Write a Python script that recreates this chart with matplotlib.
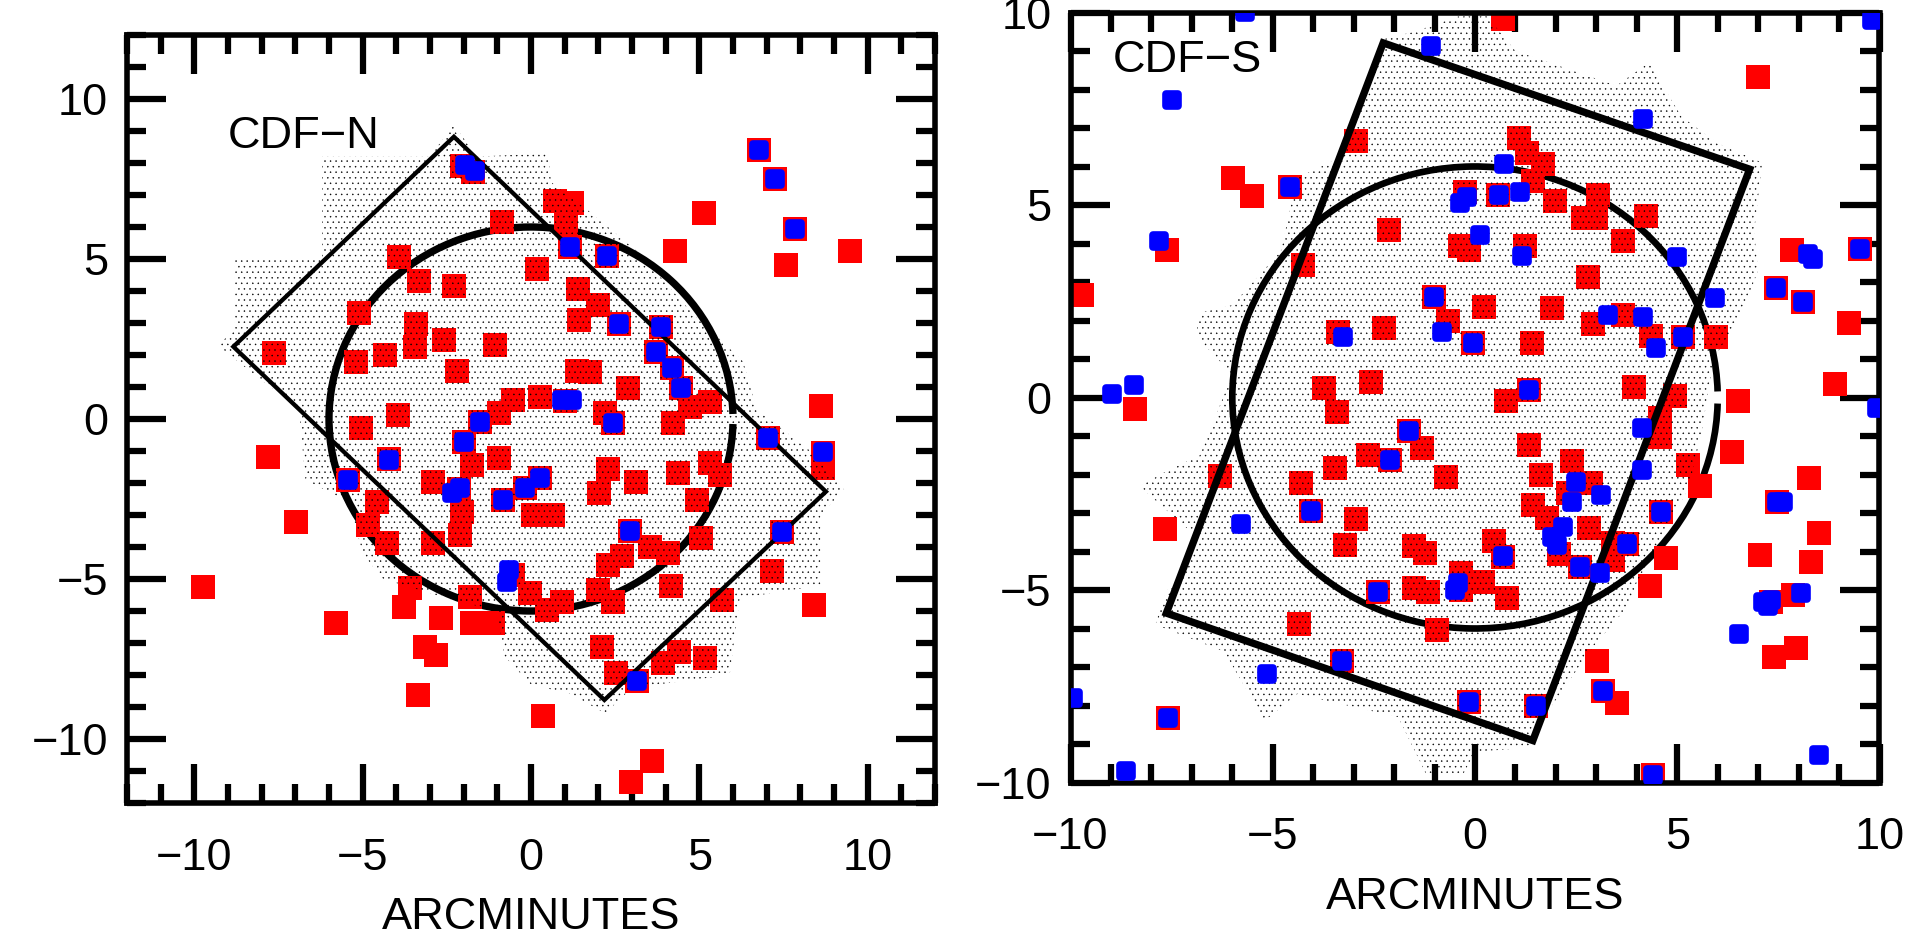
import matplotlib
matplotlib.use("Agg")
import matplotlib.pyplot as plt
from matplotlib.patches import Polygon, Arc
from matplotlib.markers import MarkerStyle
from matplotlib.ticker import MultipleLocator

plt.rcParams['font.family'] = ['Liberation Sans', 'DejaVu Sans']
plt.rcParams['hatch.linewidth'] = 0.3

##############################
# CDF-N (left panel)
##############################
cdfnRedX = [-2.06, -1.73, 0.71, 1.21, 1.04, -0.87, 1.16, 2.25, 0.17, -3.92, -3.33, -2.29, -5.11, -3.43, -3.45,
            -2.58, -1.07, -7.63, -5.20, -4.34, -2.21, 1.39, 1.98, 1.43, 2.61, 3.86, 3.70, 4.18, 4.46, 1.36,
            1.75, 2.87, -0.52, 0.27, 1.00, -0.95, -1.51, -3.96, -5.05, -1.99, -4.22, -7.82, 2.20, 2.45, 4.23,
            4.72, 5.32, 8.60, 7.03, 8.68, 8.66, 5.32, 5.61, 4.36, 3.12, 2.30, 2.02, 0.27, -0.18, -0.82,
            0.07, 0.66, 4.92, 2.94, 3.54, 4.08, 5.05, 2.69, 2.30, 7.45, 7.15, 8.41, 5.66, 4.16, -0.52,
            -0.03, 0.91, 0.47, 2.00, 2.45, 2.10, 2.52, 3.14, 3.93, 4.40, 5.17, 0.35, 3.58, 2.97, -0.95,
            -1.76, -2.90, -2.15, -2.06, -2.11, -5.43, -6.98, -4.58, -4.83, -4.29, -2.90, -3.59, -3.77, -1.81, -2.68,
            -1.76, -1.14, -9.75, -5.79, -3.15, -2.82, -3.36, 6.77, 7.25, 7.84, 5.14, 4.28, 9.48, 7.57]
cdfnRedY = [7.90, 7.73, 6.81, 6.74, 6.11, 6.15, 5.36, 5.09, 4.68, 5.07, 4.32, 4.17, 3.30, 2.97, 2.26,
            2.47, 2.31, 2.05, 1.79, 2.00, 1.51, 4.05, 3.56, 3.09, 2.97, 2.89, 2.10, 1.58, 0.96, 1.51,
            1.46, 0.96, 0.59, 0.70, 0.55, 0.18, -0.08, 0.13, -0.29, -0.71, -1.26, -1.18, 0.18, -0.14, -0.14,
            0.39, 0.54, 0.42, -0.60, -1.05, -1.54, -1.39, -1.75, -1.68, -1.96, -1.55, -2.32, -1.85, -2.17, -2.53,
            -3.00, -3.00, -2.53, -3.50, -3.99, -4.20, -3.71, -4.28, -4.56, -3.54, -4.74, -5.81, -5.66, -5.21, -4.88,
            -5.45, -5.71, -5.97, -5.34, -5.71, -7.11, -7.93, -8.19, -7.64, -7.27, -7.48, -9.27, -10.69, -11.33, -1.23,
            -1.44, -1.96, -2.20, -2.90, -3.63, -1.91, -3.21, -2.58, -3.31, -3.89, -3.89, -5.29, -5.86, -5.55, -6.23,
            -6.36, -6.36, -5.24, -6.36, -7.11, -7.38, -8.63, 8.41, 7.50, 5.94, 6.45, 5.25, 5.25, 4.81]

cdfnBlueX = [-1.96, -1.66, 1.16, 2.25, 2.61, 3.86, 3.70, 4.18, 4.46, 0.91, 1.21, -1.51, -1.99, -4.22, -5.43,
             -0.82, -0.18, 0.27, -2.11, -2.36, 2.45, 7.03, 8.68, 6.77, 7.25, 7.84, 2.94, 7.45, -0.64, -0.70, 3.14]
cdfnBlueY = [7.94, 7.76, 5.36, 5.09, 2.97, 2.89, 2.10, 1.58, 0.96, 0.59, 0.59, -0.08, -0.73, -1.27, -1.91,
             -2.53, -2.17, -1.83, -2.17, -2.32, -0.12, -0.60, -1.04, 8.41, 7.50, 5.94, -3.50, -3.54, -4.72, -5.08, -8.19]

cdfnFieldX = [-2.29, -8.84, 2.18, 8.76]
cdfnFieldY = [8.82, 2.26, -8.78, -2.27]

cdfnSpeckleX = [-6.2, -3.0, -2.3, -1.6, 0.5, 0.6, 1.6, 3.2, 4.8, 6.3, 6.7, 8.3, 9.3, 8.6, 8.6, 6.2, 5.9,
                3.0, 2.2, 1.2, 0.0, -0.8, -1.0, -2.5, -4.4, -5.0, -5.4, -6.7, -6.9, -8.0, -9.3, -8.8, -8.8, -6.2]
cdfnSpeckleY = [8.2, 8.2, 9.2, 8.2, 8.3, 7.4, 6.6, 5.2, 3.3, 1.8, 0.3, -1.0, -2.2, -3.0, -5.2, -5.6, -8.0,
                -8.4, -9.2, -8.6, -8.3, -7.4, -6.0, -5.6, -5.0, -4.2, -2.6, -1.9, 0.4, 1.2, 2.3, 2.8, 5.0, 5.0]

##############################
# CDF-S (right panel)
##############################
cdfsRedX = [-2.94, -5.99, -5.51, -4.57, -7.61, -9.71, -4.26, -2.13, -0.25, -0.37, -0.16, -1.01, -0.66, 0.22, -0.04,
            -3.38, -2.25, -3.73, -2.58, -3.42, -8.41, 0.68, 6.99, 1.09, 1.29, 1.69, 1.44, 0.58, 1.98, 3.03,
            2.99, 2.68, 4.23, 3.67, 1.24, 2.79, 7.83, 9.53, 7.44, 8.10, 1.90, 2.91, 3.67, 4.35, 5.15,
            5.96, 1.40, 9.25, 8.90, 6.49, 3.93, 4.94, 0.76, 1.34, -1.62, -1.32, -2.65, -2.10, -3.46, -0.72,
            -6.30, -4.29, -4.06, -2.95, -7.66, -3.21, -1.51, -1.24, -0.35, -0.35, -2.41, -1.51, -1.15, -0.95, 0.21,
            -4.35, -3.28, -7.60, -0.15, 4.57, 4.57, 1.34, 6.36, 2.39, 5.27, 5.56, 1.62, 8.26, 2.88,
            2.29, 7.47, 4.61, 1.43, 1.77, 2.82, 8.50, 0.47, 0.70, 7.05, 3.77, 3.42, 3.42, 2.08, 8.30,
            2.60, 4.72, 0.78, 4.33, 7.85, 7.33, 7.94, 7.39, 3.01, 3.17, 3.50, 1.52, 4.41]
cdfsRedY = [6.65, 5.71, 5.24, 5.48, 3.83, 2.65, 3.44, 4.35, 5.35, 3.94, 3.83, 2.62, 2.00, 2.36, 1.41,
            1.71, 1.80, 0.24, 0.41, -0.38, -0.30, 9.83, 8.33, 6.73, 6.34, 6.06, 5.62, 5.26, 5.11, 5.26,
            4.65, 4.65, 4.72, 4.07, 3.94, 3.14, 3.83, 3.86, 2.84, 2.49, 2.33, 1.90, 2.14, 1.61, 1.56,
            1.58, 1.42, 1.94, 0.35, -0.08, 0.26, 0.05, -0.10, 0.19, -0.87, -1.32, -1.49, -1.62, -1.84, -2.06,
            -2.04, -2.23, -2.95, -3.16, -3.42, -3.83, -3.87, -4.03, -4.57, -5.00, -5.04, -4.94, -5.04, -6.04, -4.78,
            -5.88, -6.84, -8.32, -7.92, -0.54, -1.02, -1.23, -1.41, -1.65, -1.75, -2.30, -2.01, -2.08, -2.23,
            -2.49, -2.71, -2.97, -2.79, -3.14, -3.40, -3.53, -3.73, -4.13, -4.09, -3.81, -3.79, -4.22, -4.07, -4.26,
            -4.39, -4.18, -5.20, -4.89, -5.13, -5.30, -6.50, -6.73, -6.84, -7.62, -7.93, -8.01, -9.80]

cdfsBlueX = [-5.69, -1.10, -7.48, -4.57, -7.81, -0.19, -0.37, 0.12, -1.01, -0.82, -0.04, -3.26, -8.98, -8.43, 9.81,
             4.16, 0.72, 0.60, 1.11, 1.17, 4.99, 8.24, 8.36, 9.53, 7.44, 8.10, 5.93, 3.30, 4.16, 4.47,
             5.15, 1.34, 9.95, 4.12, -1.62, -2.10, -4.06, -5.79, -0.41, -0.49, -2.41, -3.28, -5.15, -7.60, -0.15,
             -8.64, -9.95, 4.12, 2.50, 3.12, 2.39, 7.47, 7.62, 4.61, 2.18, 1.90, 2.02, 3.77, 0.70, 2.60,
             3.09, 8.05, 7.13, 7.32, 7.25, 6.53, 3.17, 1.52, 8.51, 4.41]
cdfsBlueY = [10.02, 9.14, 7.73, 5.48, 4.07, 5.22, 5.04, 4.22, 2.62, 1.71, 1.41, 1.58, 0.08, 0.33, 9.81,
             7.23, 6.06, 5.26, 5.35, 3.68, 3.66, 3.74, 3.61, 3.86, 2.84, 2.49, 2.58, 2.14, 2.10, 1.29,
             1.56, 0.19, -0.26, -0.78, -0.87, -1.62, -2.95, -3.29, -4.83, -5.00, -5.04, -6.84, -7.18, -8.32, -7.92,
             -9.69, -7.81, -1.88, -2.19, -2.53, -2.71, -2.71, -2.71, -2.97, -3.36, -3.62, -3.83, -3.81, -4.12, -4.39,
             -4.57, -5.07, -5.30, -5.26, -5.41, -6.13, -7.62, -8.01, -9.29, -9.80]

cdfsFieldX = [-2.27, 6.79, 1.43, -7.63]
cdfsFieldY = [9.21, 5.93, -8.91, -5.60]

cdfsSpeckleX = [-2.3, -1.5, -0.4, 0.3, 1.0, 3.5, 4.3, 5.1, 6.0, 7.1, 6.9, 7.0, 6.6, 5.9, 5.6, 5.3, 4.7, 4.0,
                3.8, 2.9, 1.9, 1.3, 0.0, -0.3, -1.2, -1.9, -4.4, -5.2, -6.2, -7.9, -7.7, -6.9, -8.3, -7.6,
                -6.8, -6.0, -6.9, -6.8, -6.0, -4.8, -4.4, -3.4]
cdfsSpeckleY = [9.3, 9.5, 9.9, 9.9, 9.0, 8.1, 8.7, 7.3, 6.6, 6.1, 4.3, 3.3, 2.2, 1.0, -0.9, -2.3, -3.5, -4.8,
                -5.4, -6.5, -8.0, -9.1, -9.2, -9.8, -9.8, -8.3, -7.7, -8.4, -6.6, -5.9, -5.2, -3.6, -2.3, -1.9,
                -1.5, 0.6, 1.6, 2.2, 2.4, 3.8, 5.7, 6.2]

circleRadius = 6.0

FONT_SIZE = 32.5
RED = '#ff0000'
BLUE = '#0000ff'


def styleAxes(ax, limit):
    ax.set_xlim(-limit, limit)
    ax.set_ylim(-limit, limit)
    for spine in ax.spines.values():
        spine.set_linewidth(4)
    ax.xaxis.set_major_locator(MultipleLocator(5))
    ax.yaxis.set_major_locator(MultipleLocator(5))
    ax.xaxis.set_minor_locator(MultipleLocator(1))
    ax.yaxis.set_minor_locator(MultipleLocator(1))
    ax.tick_params(which='both', direction='in', top=True, right=True, width=4.5, labelsize=FONT_SIZE)
    ax.tick_params(which='major', length=28)
    ax.tick_params(which='minor', length=13.7)
    ax.tick_params(axis='x', which='major', pad=25)
    ax.tick_params(axis='y', which='major', pad=13.5)
    ax.set_xlabel("ARCMINUTES", fontsize=FONT_SIZE)
    ax.xaxis.set_label_coords(0.5, -0.123)


def drawField(ax, redX, redY, blueX, blueY, fieldX, fieldY, speckleX, speckleY, circleWidth, fieldWidth):
    # Circle with a small gap on the right, as in the original
    ring = Arc((0, 0), 2 * circleRadius, 2 * circleRadius, theta1=1.5, theta2=358.5,
               color='black', linewidth=circleWidth, zorder=1)
    ax.add_patch(ring)

    ax.plot(redX, redY, linestyle='none', marker='s', markersize=17.2,
            markerfacecolor=RED, markeredgewidth=0, zorder=2)

    # Stippled survey area drawn above the red squares
    speckle = Polygon(list(zip(speckleX, speckleY)), closed=True, facecolor='none',
                      edgecolor='black', linewidth=0, hatch='...', zorder=3)
    ax.add_patch(speckle)

    field = Polygon(list(zip(fieldX, fieldY)), closed=True, fill=False,
                    edgecolor='black', linewidth=fieldWidth, joinstyle='miter', zorder=4)
    ax.add_patch(field)

    ax.plot(blueX, blueY, linestyle='none', marker=MarkerStyle('s', joinstyle='round'), markersize=8.5,
            markerfacecolor=BLUE, markeredgecolor=BLUE, markeredgewidth=5.5, zorder=5)


def main():
    fig = plt.figure(figsize=(19.15, 9.36), dpi=100)

    ##############################
    # CDF-N
    axN = fig.add_axes([127 / 1915, 1 - 803 / 936, 808 / 1915, 768 / 936])
    drawField(axN, cdfnRedX, cdfnRedY, cdfnBlueX, cdfnBlueY, cdfnFieldX, cdfnFieldY,
              cdfnSpeckleX, cdfnSpeckleY, circleWidth=5.3, fieldWidth=3.1)
    styleAxes(axN, 12)
    axN.text(0.125, 0.853, "CDF\u2212N", transform=axN.transAxes, fontsize=FONT_SIZE, va='baseline')

    ##############################
    # CDF-S
    axS = fig.add_axes([1070.5 / 1915, 1 - 782.5 / 936, 809 / 1915, 770 / 936])
    drawField(axS, cdfsRedX, cdfsRedY, cdfsBlueX, cdfsBlueY, cdfsFieldX, cdfsFieldY,
              cdfsSpeckleX, cdfsSpeckleY, circleWidth=4.8, fieldWidth=5.3)
    styleAxes(axS, 10)
    axS.text(0.0525, 0.9227, "CDF\u2212S", transform=axS.transAxes, fontsize=FONT_SIZE, va='baseline')

    fig.savefig("out.png", dpi=100)


if __name__ == '__main__':
    main()
